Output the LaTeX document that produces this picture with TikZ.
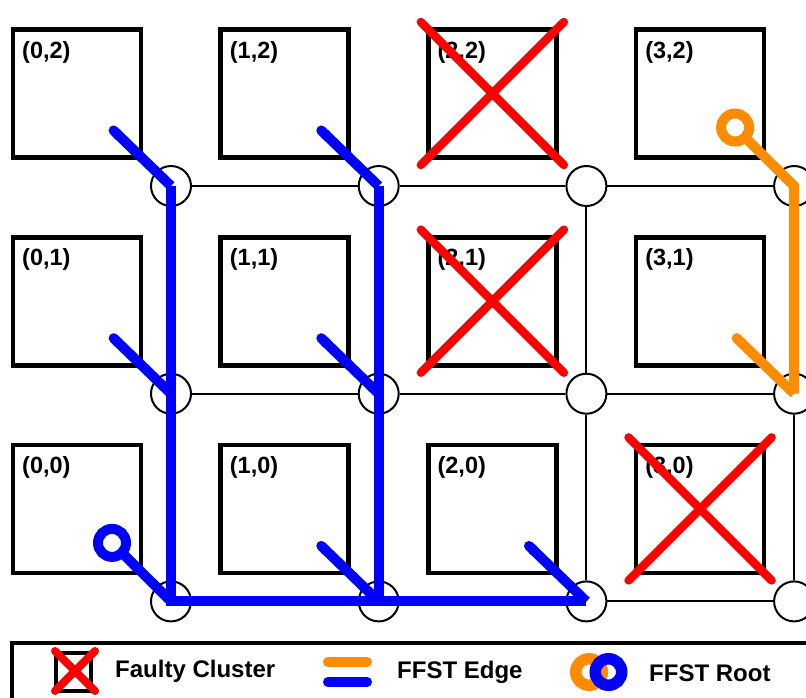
\documentclass[tikz,border=0pt]{standalone}
\usepackage{fontspec}
\setmainfont{Liberation Sans}
\usetikzlibrary{calc,arrows.meta}
\definecolor{treeblue}{RGB}{0,0,255}
\definecolor{treeorange}{RGB}{255,140,0}
\definecolor{faultred}{RGB}{255,0,0}
\begin{document}
\begin{tikzpicture}[x=1pt,y=-1pt,
  cluster/.style={draw, line width=4.6, rectangle, minimum width=128,
    minimum height=128, inner sep=0, outer sep=0},
  router/.style={draw, line width=2, circle, fill=white, minimum size=40,
    inner sep=0},
  link/.style={line width=2},
  lbl/.style={font=\fontsize{23.5}{23.5}\selectfont\bfseries, inner sep=0},
  keytext/.style={font=\fontsize{24}{24}\selectfont\bfseries, inner sep=0,
    anchor=base west},
  fault/.style={draw=faultred, line width=8.5, line cap=round},
  blueedge/.style={draw=treeblue, line width=10, line join=miter},
  orangeedge/.style={draw=treeorange, line width=10, line join=miter},
  leaf/.style={{Round Cap}-},
  root/.style={draw=#1, circle, line width=10, minimum size=28, inner sep=0,
    outer sep=0},
]
\useasboundingbox (0,0) rectangle (806,697);
\clip (0,0) rectangle (806,697);

% clusters with their labels, and the router below-right of each cluster
\foreach \i in {0,...,3}{
  \foreach \j in {0,1,2}{
    \node[cluster] (b\i\j) at ({77+207.7*\i},{93.5+207.7*(2-\j)}) {};
    \node[lbl, anchor=base west] (l\i\j) at ($(b\i\j.north west)+(9,28.5)$) {(\i,\j)};
    \node[router] (r\i\j) at ({171+207.7*\i},{186+207.7*(2-\j)}) {};
  }
}

% mesh links between routers
\foreach \j in {0,1,2}{
  \draw[link] (r0\j) -- (r1\j);
  \draw[link] (r1\j) -- (r2\j);
  \draw[link] (r2\j) -- (r3\j);
}
\foreach \i in {0,...,3}{
  \draw[link] (r\i2) -- (r\i1);
  \draw[link] (r\i1) -- (r\i0);
}

% faulty clusters
\foreach \c in {22,21,30}{
  \draw[fault] ($(b\c)+(-71.5,-71.5)$) -- ($(b\c)+(71.5,71.5)$);
  \draw[fault] ($(b\c)+(-71.5,71.5)$) -- ($(b\c)+(71.5,-71.5)$);
}

% attachment points of the clusters to the tree (outer end of the cap)
\foreach \c in {02,12,01,11,10,20,31}{
  \coordinate (d\c) at ($(r\c)+(-61,-59)$);
}

% blue FFST
\node[root=treeblue] (t00) at ($(r00)+(-59,-58.5)$) {};
\draw[blueedge] (t00) -- (r00.center);
\draw[blueedge] (r02.center) -- (r01.center) -- (r00.center) -- (r20.center);
\draw[blueedge] (r12.center) -- (r11.center) -- (r10.center);
\foreach \c in {02,12,01,11,10,20}{
  \draw[blueedge, leaf] (d\c) -- (r\c.center);
}

% orange FFST
\node[root=treeorange] (t32) at ($(r32)+(-59,-58.5)$) {};
\draw[orangeedge] (t32) -- (r32.center) -- (r31.center);
\draw[orangeedge, leaf] (d31) -- (r31.center);

% legend
\draw[line width=4.6] (12,643) rectangle (860,760);
\node[draw, line width=4.5, minimum width=35, minimum height=38, inner sep=0]
  (keybox) at (73.5,672) {};
\coordinate (keyx) at (75,671);
\draw[fault, line width=8] ($(keyx)+(-20,-20)$) -- ($(keyx)+(20,20)$);
\draw[fault, line width=8] ($(keyx)+(-20,20)$) -- ($(keyx)+(20,-20)$);
\node[keytext] (kfault) at (115,677) {Faulty Cluster};

\coordinate (ko1) at (328,662);
\coordinate (ko2) at (367,662);
\coordinate (kb1) at (328,682);
\coordinate (kb2) at (367,682);
\draw[orangeedge, line cap=round] (ko1) -- (ko2);
\draw[blueedge, line cap=round] (kb1) -- (kb2);
\node[keytext] (kedge) at (397,678) {FFST Edge};

\node[root=treeorange, line width=11.5, minimum size=26.5] (kro) at (589,672) {};
\node[root=treeblue, line width=11.5, minimum size=26.5] (krb) at (608.5,672) {};
\node[keytext] (kroot) at (649,681) {FFST Root};
\end{tikzpicture}
\end{document}
